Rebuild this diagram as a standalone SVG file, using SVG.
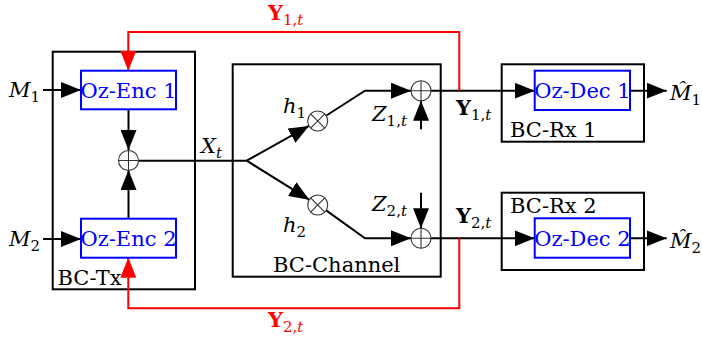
<svg xmlns="http://www.w3.org/2000/svg" width="702" height="339" viewBox="0 0 702 339" font-family="'DejaVu Serif', 'Liberation Serif', 'Times New Roman', 'Noto Serif', serif">
<style>
.box{fill:none;stroke:#000;stroke-width:2}
.bbox{fill:#fff;stroke:#00f;stroke-width:2}
.ln{fill:none;stroke:#000;stroke-width:2}
.red{fill:none;stroke:#f00;stroke-width:2}
.op{fill:#fff;stroke:#333;stroke-width:1.1}
text{font-family:'DejaVu Serif','Liberation Serif','Times New Roman','Noto Serif',serif;font-size:21px;fill:#000}
.bl{fill:#00f}
.rt{fill:#f00}
.i{font-style:italic}
.b{font-weight:bold}
.s{font-size:15px}
</style>
<defs>
<marker id="ak" markerUnits="userSpaceOnUse" markerWidth="20" markerHeight="16" refX="20" refY="8" orient="auto">
<path d="M0,0 L20,8 L0,16 z" fill="#000"/>
</marker>
<marker id="ar" markerUnits="userSpaceOnUse" markerWidth="20" markerHeight="16" refX="20" refY="8" orient="auto">
<path d="M0,0 L20,8 L0,16 z" fill="#f00"/>
</marker>
</defs>

<g id="bc-tx">
<rect class="box" x="52.7" y="51.7" width="142.3" height="237.6"/>
<text x="57.5" y="285">BC-Tx</text>
</g>
<g id="bc-channel">
<rect class="box" x="232.7" y="64.3" width="208" height="212.4"/>
<text x="336.7" y="272" text-anchor="middle">BC-Channel</text>
</g>
<g id="bc-rx1">
<rect class="box" x="501.7" y="64.3" width="142.3" height="77.4"/>
<text x="510" y="137">BC-Rx 1</text>
</g>
<g id="bc-rx2">
<rect class="box" x="501.7" y="192.7" width="142.3" height="77.3"/>
<text x="510" y="213">BC-Rx 2</text>
</g>

<g id="connectors">
<line class="ln" x1="43" y1="90" x2="81" y2="90" marker-end="url(#ak)"/>
<line class="ln" x1="43" y1="239" x2="81" y2="239" marker-end="url(#ak)"/>
<line class="ln" x1="128.5" y1="109.3" x2="128.5" y2="150" marker-end="url(#ak)"/>
<line class="ln" x1="128.5" y1="218.7" x2="128.5" y2="170" marker-end="url(#ak)"/>
<line class="ln" x1="138.5" y1="160.7" x2="246.7" y2="160.7"/>
<line class="ln" x1="246.7" y1="160.7" x2="309" y2="125.9" marker-end="url(#ak)"/>
<line class="ln" x1="246.7" y1="160.7" x2="309.2" y2="199.7" marker-end="url(#ak)"/>
<polyline class="ln" points="326.4,115.5 365,90.7 411,90.7" marker-end="url(#ak)"/>
<polyline class="ln" points="326.2,210.4 365,238.3 411,238.3" marker-end="url(#ak)"/>
<line class="ln" x1="421" y1="129.3" x2="421" y2="100.7" marker-end="url(#ak)"/>
<line class="ln" x1="421" y1="192.7" x2="421" y2="228.3" marker-end="url(#ak)"/>
<line class="ln" x1="431" y1="90.7" x2="534.7" y2="90.7" marker-end="url(#ak)"/>
<line class="ln" x1="431" y1="238.3" x2="534.7" y2="238.3" marker-end="url(#ak)"/>
<line class="ln" x1="630" y1="90.7" x2="666.7" y2="90.7" marker-end="url(#ak)"/>
<line class="ln" x1="630" y1="238.3" x2="666.7" y2="238.3" marker-end="url(#ak)"/>
<polyline class="red" points="459.3,90.7 459.3,32 128.3,32 128.3,70.7" marker-end="url(#ar)"/>
<polyline class="red" points="459.3,238.3 459.3,308.3 128.3,308.3 128.3,257.7" marker-end="url(#ar)"/>
</g>

<g id="enc1">
<rect class="bbox" x="81" y="70.7" width="95" height="38.6"/>
<text class="bl" x="128.5" y="98" text-anchor="middle">Oz-Enc 1</text>
</g>
<g id="enc2">
<rect class="bbox" x="81" y="218.7" width="95" height="39"/>
<text class="bl" x="128.5" y="246" text-anchor="middle">Oz-Enc 2</text>
</g>
<g id="dec1">
<rect class="bbox" x="534.7" y="70.7" width="95.3" height="39.3"/>
<text class="bl" x="582.4" y="98" text-anchor="middle">Oz-Dec 1</text>
</g>
<g id="dec2">
<rect class="bbox" x="534.7" y="218.3" width="95.3" height="39.4"/>
<text class="bl" x="582.4" y="246" text-anchor="middle">Oz-Dec 2</text>
</g>

<g id="sum-tx">
<circle class="op" cx="128.5" cy="160.5" r="10"/>
<path class="op" d="M118.5,160.5 H138.5 M128.5,150.5 V170.5"/>
</g>
<g id="mult1">
<circle class="op" cx="317.7" cy="121" r="10"/>
<path class="op" d="M310.6,113.9 L324.8,128.1 M324.8,113.9 L310.6,128.1"/>
</g>
<g id="mult2">
<circle class="op" cx="317.7" cy="205" r="10"/>
<path class="op" d="M310.6,197.9 L324.8,212.1 M324.8,197.9 L310.6,212.1"/>
</g>
<g id="sum1">
<circle class="op" cx="421" cy="90.7" r="10"/>
<path class="op" d="M411,90.7 H431 M421,80.7 V100.7"/>
</g>
<g id="sum2">
<circle class="op" cx="421" cy="238.3" r="10"/>
<path class="op" d="M411,238.3 H431 M421,228.3 V248.3"/>
</g>

<g id="labels">
<text x="9" y="97"><tspan class="i">M</tspan><tspan class="s" dy="5">1</tspan></text>
<text x="9" y="246"><tspan class="i">M</tspan><tspan class="s" dy="5">2</tspan></text>
<text x="670" y="100"><tspan class="i">M̂</tspan><tspan class="s" dy="5">1</tspan></text>
<text x="670" y="248"><tspan class="i">M̂</tspan><tspan class="s" dy="5">2</tspan></text>
<text x="201" y="153"><tspan class="i">X</tspan><tspan class="s i" dy="5">t</tspan></text>
<text x="283" y="113"><tspan class="i">h</tspan><tspan class="s" dy="5">1</tspan></text>
<text x="283" y="232"><tspan class="i">h</tspan><tspan class="s" dy="5">2</tspan></text>
<text x="372" y="121"><tspan class="i">Z</tspan><tspan class="s" dy="5">1,</tspan><tspan class="s i">t</tspan></text>
<text x="372" y="211"><tspan class="i">Z</tspan><tspan class="s" dy="5">2,</tspan><tspan class="s i">t</tspan></text>
<text x="456" y="115"><tspan class="b">Y</tspan><tspan class="s" dy="5">1,</tspan><tspan class="s i">t</tspan></text>
<text x="456" y="223"><tspan class="b">Y</tspan><tspan class="s" dy="5">2,</tspan><tspan class="s i">t</tspan></text>
<text class="rt" x="268" y="20"><tspan class="b">Y</tspan><tspan class="s" dy="5">1,</tspan><tspan class="s i">t</tspan></text>
<text class="rt" x="268" y="327"><tspan class="b">Y</tspan><tspan class="s" dy="5">2,</tspan><tspan class="s i">t</tspan></text>
</g>
</svg>
